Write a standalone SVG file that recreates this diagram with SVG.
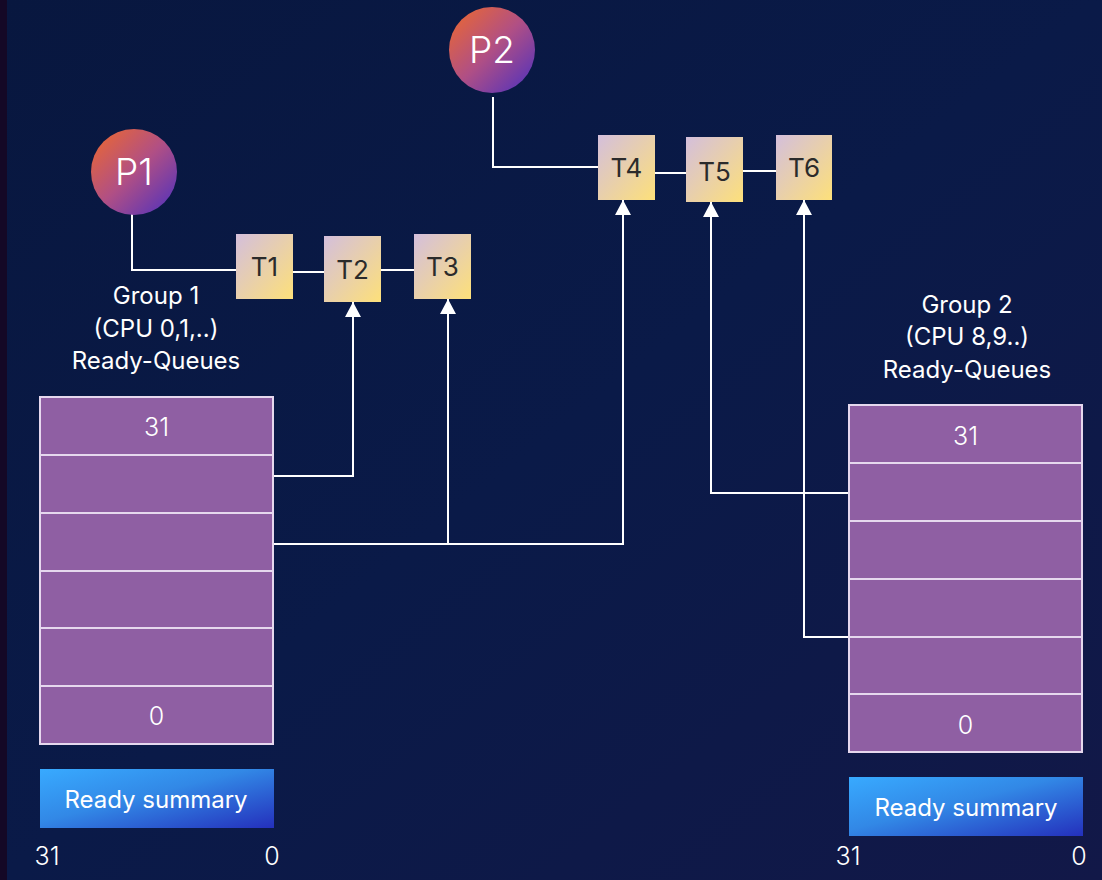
<svg xmlns="http://www.w3.org/2000/svg" width="1102" height="880" viewBox="0 0 1102 880">
  <defs>
    <linearGradient id="bg" x1="0" y1="0" x2="1" y2="1">
      <stop offset="0" stop-color="#08173f"/>
      <stop offset="0.5" stop-color="#0a1a48"/>
      <stop offset="1" stop-color="#121848"/>
    </linearGradient>
    <linearGradient id="proc" x1="0" y1="0" x2="1" y2="1">
      <stop offset="0" stop-color="#f06a2a"/>
      <stop offset="0.5" stop-color="#b04f85"/>
      <stop offset="1" stop-color="#4a2fc0"/>
    </linearGradient>
    <linearGradient id="thread" x1="0" y1="0" x2="1" y2="1">
      <stop offset="0" stop-color="#d4bfdc"/>
      <stop offset="1" stop-color="#fde07a"/>
    </linearGradient>
    <linearGradient id="summary" x1="0" y1="0" x2="1" y2="1">
      <stop offset="0" stop-color="#38aaff"/>
      <stop offset="0.45" stop-color="#3288e6"/>
      <stop offset="1" stop-color="#2430bc"/>
    </linearGradient>
    <marker id="arrow" viewBox="0 0 15 16" refX="15" refY="8" markerWidth="15" markerHeight="16" markerUnits="userSpaceOnUse" orient="auto">
      <path d="M0,0 L15,8 L0,16 Z" fill="#ffffff"/>
    </marker>
    <style>
      .lbl { font-family: Inter, "Liberation Sans", sans-serif; fill: #ffffff; font-size: 24px; text-anchor: middle; }
      .pt { font-family: Inter, "Liberation Sans", sans-serif; fill: #ffffff; font-size: 37px; font-weight: 300; text-anchor: middle; }
      .tt { font-family: Inter, "Liberation Sans", sans-serif; fill: #2b2b2b; font-size: 26px; text-anchor: middle; }
      .qcell { fill: #8f5fa3; stroke: #e6d8ee; stroke-width: 2; }
      .wire { fill: none; stroke: #ffffff; stroke-width: 2; }
      .num { font-family: Inter, "Liberation Sans", sans-serif; fill: #ffffff; font-size: 25px; font-weight: 300; text-anchor: middle; }
    </style>
  </defs>

  <!-- backdrop -->
  <rect x="0" y="0" width="1102" height="880" fill="url(#bg)"/>
  <rect x="0" y="0" width="7" height="880" fill="#140826"/>

  <!-- connectors -->
  <g id="connectors">
    <polyline class="wire" points="132,213 132,270 236,270"/>
    <line class="wire" x1="293" y1="272" x2="324" y2="272"/>
    <line class="wire" x1="381" y1="270" x2="414" y2="270"/>
    <polyline class="wire" points="493,97 493,167 598,167"/>
    <line class="wire" x1="655" y1="173" x2="686" y2="173"/>
    <line class="wire" x1="743" y1="171" x2="776" y2="171"/>
    <!-- group 1 queues to threads -->
    <polyline class="wire" points="274,476 353,476 353,302" marker-end="url(#arrow)"/>
    <polyline class="wire" points="274,544 623,544 623,200" marker-end="url(#arrow)"/>
    <line class="wire" x1="448" y1="544" x2="448" y2="299" marker-end="url(#arrow)"/>
    <!-- group 2 queues to threads -->
    <polyline class="wire" points="849,493 711,493 711,202" marker-end="url(#arrow)"/>
    <polyline class="wire" points="849,637 804,637 804,200" marker-end="url(#arrow)"/>
  </g>

  <!-- processes -->
  <g id="P1">
    <circle cx="134" cy="172" r="43" fill="url(#proc)"/>
    <text class="pt" x="134" y="185">P1</text>
  </g>
  <g id="P2">
    <circle cx="492" cy="50" r="43" fill="url(#proc)"/>
    <text class="pt" x="492" y="63">P2</text>
  </g>

  <!-- threads -->
  <g id="T1">
    <rect x="236" y="234" width="57" height="65" fill="url(#thread)"/>
    <text class="tt" x="264.5" y="276">T1</text>
  </g>
  <g id="T2">
    <rect x="324" y="236" width="57" height="66" fill="url(#thread)"/>
    <text class="tt" x="352.5" y="279">T2</text>
  </g>
  <g id="T3">
    <rect x="414" y="234" width="57" height="65" fill="url(#thread)"/>
    <text class="tt" x="442.5" y="276">T3</text>
  </g>
  <g id="T4">
    <rect x="598" y="135" width="57" height="65" fill="url(#thread)"/>
    <text class="tt" x="626.5" y="177">T4</text>
  </g>
  <g id="T5">
    <rect x="686" y="137" width="57" height="65" fill="url(#thread)"/>
    <text class="tt" x="714.5" y="181">T5</text>
  </g>
  <g id="T6">
    <rect x="776" y="135" width="56" height="65" fill="url(#thread)"/>
    <text class="tt" x="804" y="177">T6</text>
  </g>

  <!-- group 1 ready queues -->
  <g id="group1">
    <text class="lbl" x="156" y="304">Group 1</text>
    <text class="lbl" x="156" y="337">(CPU 0,1,..)</text>
    <text class="lbl" x="156" y="369">Ready-Queues</text>
    <rect class="qcell" x="40" y="397" width="233" height="58"/>
    <rect class="qcell" x="40" y="455" width="233" height="58"/>
    <rect class="qcell" x="40" y="513" width="233" height="58"/>
    <rect class="qcell" x="40" y="571" width="233" height="57"/>
    <rect class="qcell" x="40" y="628" width="233" height="58"/>
    <rect class="qcell" x="40" y="686" width="233" height="58"/>
    <text class="num" x="156.5" y="436">31</text>
    <text class="num" x="156.5" y="725">0</text>
  </g>
  <g id="summary1">
    <rect x="40" y="769" width="234" height="59" fill="url(#summary)"/>
    <text class="lbl" x="156" y="808">Ready summary</text>
    <text class="num" x="47" y="865">31</text>
    <text class="num" x="272" y="865">0</text>
  </g>

  <!-- group 2 ready queues -->
  <g id="group2">
    <text class="lbl" x="967" y="313">Group 2</text>
    <text class="lbl" x="967" y="345">(CPU 8,9..)</text>
    <text class="lbl" x="967" y="378">Ready-Queues</text>
    <rect class="qcell" x="849" y="405" width="233" height="58"/>
    <rect class="qcell" x="849" y="463" width="233" height="58"/>
    <rect class="qcell" x="849" y="521" width="233" height="58"/>
    <rect class="qcell" x="849" y="579" width="233" height="58"/>
    <rect class="qcell" x="849" y="637" width="233" height="57"/>
    <rect class="qcell" x="849" y="694" width="233" height="58"/>
    <text class="num" x="965.5" y="445">31</text>
    <text class="num" x="965.5" y="734">0</text>
  </g>
  <g id="summary2">
    <rect x="849" y="777" width="234" height="59" fill="url(#summary)"/>
    <text class="lbl" x="966" y="816">Ready summary</text>
    <text class="num" x="848" y="865">31</text>
    <text class="num" x="1079" y="865">0</text>
  </g>
</svg>
